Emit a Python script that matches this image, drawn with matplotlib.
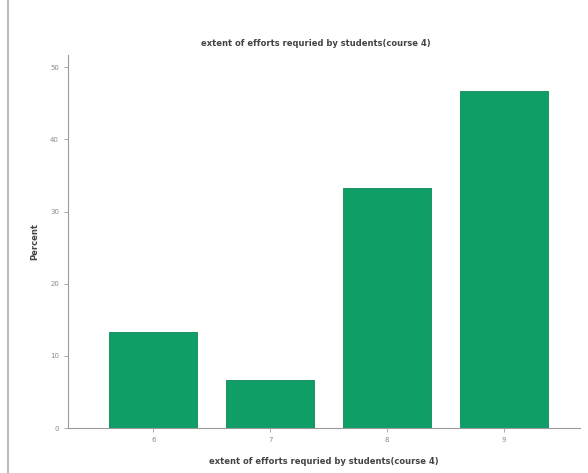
import matplotlib
matplotlib.use('Agg')
import matplotlib.pyplot as plt

# Survey data: effort rating vs percent of students
# ----------------------------------------------------------------------------

categories = ['6', '7', '8', '9']
percent = [13.33, 6.67, 33.33, 46.67]
yticks = [0, 10, 20, 30, 40, 50]

title = 'extent of efforts requried by students(course 4)'
bar_color = '#0f9e66'

# Plot
# ----------------------------------------------------------------------------

fig = plt.figure(figsize=(5.88, 4.73), dpi=100)
ax = fig.add_axes([68 / 588, 45 / 473, 512 / 588, 373 / 473])

xpos = range(len(categories))
ax.bar(xpos, percent, width=0.75, color=bar_color, edgecolor='#0c8a58', linewidth=0.6)

ax.set_xlim(-0.73, 3.65)
ax.set_ylim(0, 51.7)
ax.set_xticks(list(xpos))
ax.set_xticklabels(categories)
ax.set_yticks(yticks)

for side in ['top', 'right']:
    ax.spines[side].set_visible(False)
for side in ['left', 'bottom']:
    ax.spines[side].set_color('#9a9a9a')
    ax.spines[side].set_linewidth(0.8)

ax.tick_params(colors='#9a9a9a', labelcolor='#8a8a8a', labelsize=5, length=3, width=0.6)

ax.set_xlabel(title, fontsize=6, fontweight='bold', color='#444444', labelpad=10)
ax.set_ylabel('Percent', fontsize=6, fontweight='bold', color='#444444', labelpad=8)
fig.text(316 / 588, 1 - 43 / 473, title, ha='center', va='center',
         fontsize=6, fontweight='bold', color='#444444')

# thin page border on the left
fig.add_artist(plt.Line2D([8 / 588, 8 / 588], [0, 1], color='#bbbbbb', linewidth=1.5))

fig.savefig('out.png', dpi=100)
